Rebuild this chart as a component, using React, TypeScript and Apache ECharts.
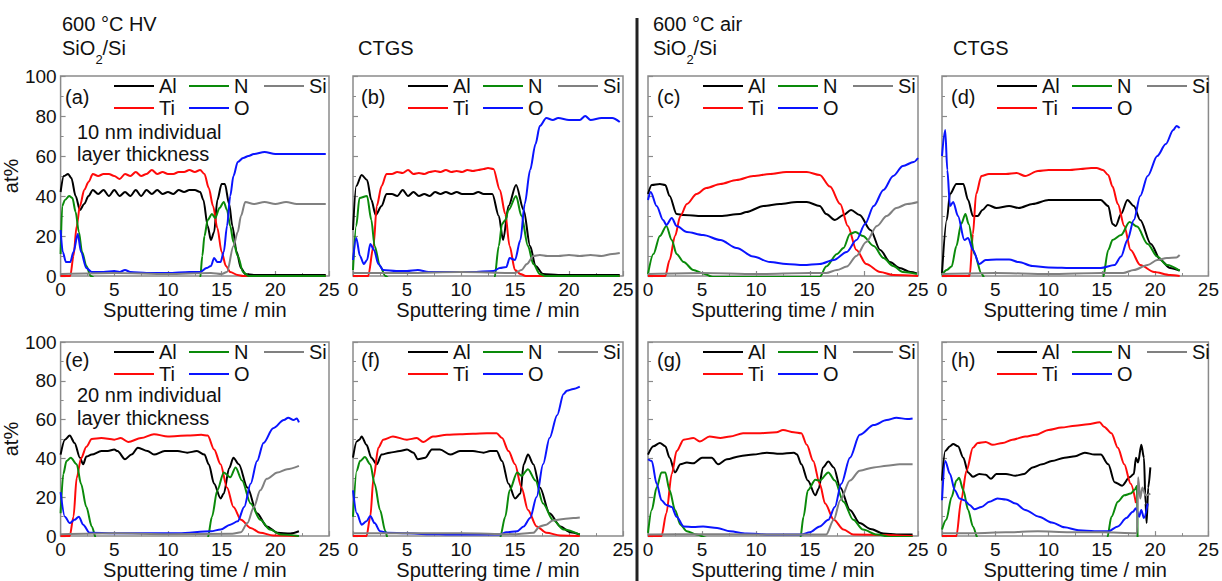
import React, { useEffect, useRef } from 'react';
import * as echarts from 'echarts';

// ---------- data: [sputtering time (min), at%] ----------
// (a) 600 °C HV, SiO2/Si, 10 nm
const aAl = [[0,42],[0.3,50],[0.7,51],[1.0,49],[1.4,40],[1.8,33],[2.2,36],[2.6,40],[3.0,43],[3.5,41],[4,43],[4.5,40],[5,43],[5.5,40],[6,42],[6.5,40],[7,43],[7.5,40],[8,43],[8.5,41],[9,43],[9.5,41],[10,42],[10.5,41],[11,43],[11.5,42],[12,43],[12.5,43],[13,42],[13.3,38],[13.7,25],[14,18],[14.3,22],[14.6,38],[15,46],[15.3,46],[15.7,36],[16,25],[16.4,12],[16.8,4],[17.2,1],[18,0.5],[20,0.5],[22,0.5],[24.7,0.5]];
const aTi = [[0,0],[0.9,0],[1.2,10],[1.5,25],[1.8,35],[2.2,43],[2.6,47],[3,51],[3.5,50],[4,51],[4.5,51],[5,50],[5.5,48.5],[6,51],[6.5,50],[7,52],[7.5,50],[8,51],[8.5,53],[9,51],[9.5,52],[10,51],[10.5,51],[11,52],[11.5,52],[12,53],[12.5,52],[13,53],[13.4,51],[13.8,44],[14.2,35],[14.6,24],[15,12],[15.4,5],[15.8,2],[16.5,0.5],[17,0],[24.7,0]];
const aN = [[0,11],[0.15,35],[0.4,38],[0.8,40],[1.1,39],[1.4,32],[1.7,22],[2.0,12],[2.4,5],[2.8,0],[3.2,-1],[13,-1],[13.2,10],[13.4,20],[13.7,28],[14.1,31],[14.4,29],[14.8,34],[15.2,37],[15.5,33],[15.8,25],[16.1,17],[16.5,10],[17,2],[17.5,0],[24.7,0]];
const aO = [[0,23],[0.2,12],[0.5,7],[0.9,7],[1.2,12],[1.6,21],[1.9,12],[2.4,4],[2.9,2],[4,2],[5,2.5],[5.5,2],[6,3],[6.5,2],[8,1.5],[10,1.5],[12,2],[13,2],[13.6,4],[14,5],[14.3,9],[14.6,7],[14.9,7],[15.2,12],[15.5,25],[15.8,40],[16.1,50],[16.5,57],[17,59],[17.5,60],[18,61],[19,62],[20,61],[21,61],[22,61],[23,61],[24,61],[24.7,61]];
const aSi = [[0,1],[5,1.5],[10,1],[14,1.5],[15,1],[15.5,2],[16.1,15],[16.5,22],[16.8,30],[17.2,37],[18,36],[19,37],[20,36],[21,37],[22,36],[23,36],[24,36],[24.7,36]];

// (b) 600 °C HV, CTGS, 10 nm
const bAl = [[0,23],[0.3,45],[0.8,50.5],[1.3,48],[1.7,38],[2.1,30.5],[2.65,35],[3.1,41],[3.6,41],[4.1,40],[4.6,43],[5.1,40],[5.6,42],[6.1,40],[6.6,41],[7.1,40],[7.6,42],[8.1,41],[8.6,42],[9.1,41],[9.6,42],[10.1,41],[10.6,41],[11.1,41],[11.6,42],[12.1,41],[12.9,41],[13.5,30],[13.9,18],[14.4,35],[15.1,45.5],[15.8,33],[16.4,15],[16.9,5],[17.6,1],[19,0.5],[24.7,0.5]];
const bTi = [[0,0],[1.4,0],[1.9,15],[2.2,35],[2.65,45],[3.1,51],[3.6,51],[4.1,52],[4.6,51.5],[5.1,53],[5.6,51],[6.1,51.5],[6.6,51],[7.1,52],[7.6,52.5],[8.1,52],[8.6,53],[9.1,52],[9.6,52.5],[10.1,52],[10.6,53],[11.1,52.5],[11.6,53],[12.1,53.5],[12.5,54],[13,53.5],[13.6,43],[14.1,31],[14.5,15],[15,3],[15.5,1],[16,0],[24.7,0]];
const bN = [[0,3],[0.3,25],[0.6,39],[1.3,40],[1.7,28],[2.0,15],[2.5,5],[3,0],[3.3,-1],[13.1,-1],[13.5,15],[13.8,26],[14.1,28],[14.4,33],[15.1,40],[15.6,30],[16.2,15],[16.7,6],[17.3,1],[17.8,0],[24.7,0]];
const bO = [[0,8],[0.3,19],[0.65,10],[1,6],[1.3,8],[1.6,16],[1.95,13],[2.35,6],[2.8,3],[4,2.5],[5,2.5],[6,3],[7,2],[9,2],[11,2],[13,2.5],[13.6,4],[14.2,4.5],[14.5,9],[15,8],[15.5,18],[15.9,36],[16.4,53],[16.9,66],[17.3,75],[17.9,79],[18.5,78],[19,79],[20,78],[21,78],[21.5,80],[22,78],[23,79],[24,79],[24.7,77]];
const bSi = [[0,1.5],[5,1.5],[10,2],[15,1.5],[15.6,3],[16.1,6],[16.7,10],[17.3,10.5],[18,10],[19,10],[20,10.5],[21,10],[22,10.5],[23,10],[24,11],[24.7,11.5]];

// (c) 600 °C air, SiO2/Si, 10 nm
const cAl = [[0,41],[0.35,45.5],[1.1,46],[1.6,45.5],[2.0,40],[2.65,31],[3.3,30.5],[5,30],[6.7,30],[8.5,31],[9.1,32],[10.7,35],[12.2,36],[13.8,37],[14.7,37],[15.9,35],[16.5,31],[17.3,28],[18.1,30.5],[18.8,33],[19.6,30.5],[20.6,23],[21.5,13],[22.4,7],[23.3,4],[24.3,2],[24.9,1.3]];
const cTi = [[0,0],[1.6,0],[2.0,8],[2.5,20],[3,30],[3.6,36],[4.5,41],[5.4,44],[6.7,46],[8.2,48],[9.75,50],[11.3,51],[12.8,52],[14.7,52],[15.9,50.5],[16.85,44.7],[17.8,36],[18.5,25],[19.3,13],[20.2,6],[21.5,2],[22.7,0.5],[25,0]];
const cN = [[0,1],[0.5,11],[1.1,20],[1.7,25],[2.2,18],[2.65,11],[3.3,7],[4.2,3],[5.1,1.3],[6,-0.5],[15.9,-0.5],[16.5,4.7],[17.5,11],[18.1,14],[18.7,21],[19.2,22],[19.9,20],[20.9,15],[21.8,9],[22.7,5],[23.6,2],[24.9,1]];
const cO = [[0,38],[0.25,42],[0.8,35],[1.4,28],[1.7,25.5],[2.2,29],[2.65,25],[3.6,22],[5.1,20.5],[6.7,18],[8.2,14],[9.75,9.7],[11.3,7],[12.8,6],[14.4,5.5],[15.9,6],[17.2,8],[18.4,12],[19.3,18],[20.1,26],[20.9,35],[21.8,43],[22.7,50],[23.6,55],[24.6,57],[25,59]];
const cSi = [[0,1],[5,1.5],[10,1],[15,1.5],[16.5,1.5],[17.5,3],[18.4,4.7],[19.3,10],[20.2,17],[21.2,25],[22.1,30],[23,34],[24,36],[25,37]];

// (d) 600 °C air, CTGS, 10 nm
const dAl = [[0,1.3],[0.45,28],[0.75,41],[1.35,46],[2,46],[2.45,38],[2.9,30],[3.35,30],[3.8,33],[4.3,35.5],[5.1,34],[6.3,35],[7.2,34],[8.5,36],[10,38],[12.5,38],[14.9,38],[15.6,35],[16,26],[16.3,25],[16.8,31],[17.4,38],[18,35],[18.6,28],[19.6,16],[20.5,8],[21.4,4],[22.3,2.7]];
const dTi = [[0,0],[2.6,0],[2.9,21],[3.2,41],[3.7,50],[4.4,51],[5,51],[6,51],[7,51.5],[7.8,50],[9,52.5],[10,53],[11,53],[12,53],[13,53.5],[14,54],[14.5,54],[15.1,53],[15.6,50.5],[16,44.7],[16.5,36],[17.1,25],[17.7,13],[18.6,5.5],[19.9,2],[21.4,0.5],[22.3,0]];
const dN = [[0,0.5],[0.45,3],[0.9,4.7],[1.35,15],[1.8,26],[2.2,31],[2.5,26],[3.05,11],[3.7,1.3],[4,-1],[15.1,-1],[15.6,13],[16,18],[16.8,20.5],[17.6,27],[18.3,24.7],[19.3,16],[20.2,9.7],[21.1,5.5],[22.3,2.7]];
const dO = [[0,60],[0.3,73],[0.5,53],[0.75,35],[1.05,37],[1.5,30],[2.1,18],[2.45,19],[2.9,13],[3.5,6],[4.1,8],[5.1,8.3],[6.3,8.3],[7.2,7],[8.5,5],[10,4.3],[12.5,4],[14.9,4],[16.2,5.5],[16.8,9.7],[17.4,18],[18,28],[18.6,40],[19.3,50],[20.2,60],[21,66],[21.7,73],[22,75],[22.3,74]];
const dSi = [[0,1],[5,1.5],[10,1],[15,1.5],[17,1.5],[18,3],[19.3,5.5],[20.2,8],[21.1,9],[22,9.3],[22.3,10.5]];

// (e) 600 °C HV, SiO2/Si, 20 nm
const eAl = [[0,42],[0.4,49.7],[0.85,51.8],[1.3,48],[1.8,40.4],[2.1,37],[2.4,41],[2.9,42],[3.8,43.8],[4.4,43.8],[5,44.6],[5.3,43.8],[6,39.6],[6.6,42],[7.2,45.5],[8.1,43.8],[8.7,42],[9.7,43.8],[10.9,43.8],[11.8,43],[12.7,43.8],[13.4,42],[13.8,37],[14.3,27],[14.9,19.4],[15.2,21.9],[15.7,35],[16.1,40.4],[16.6,37],[17.4,25],[18.3,11.8],[19.2,5],[20.2,1.7],[21.4,1.3],[22.2,2.5]];
const eTi = [[0,0],[0.85,0],[1.2,10],[1.5,30],[1.9,40],[2.4,46],[2.9,50],[3.8,50.5],[5,49.7],[5.6,50.5],[6.3,48.5],[7.5,50.5],[8.7,52.5],[10,51.3],[11.8,51.8],[13.1,52.2],[13.7,51.8],[14.3,44.6],[14.9,37],[15.5,25],[16.1,15],[16.8,8.4],[17.7,4.2],[18.6,1.7],[19.8,0.3],[22.2,0]];
const eN = [[0,11.8],[0.25,32],[0.55,38.7],[0.95,40.4],[1.5,37],[1.9,27],[2.4,15],[2.9,5],[3.3,-1],[13.7,-1],[14.1,10],[14.6,23.6],[15.2,32.8],[15.8,30.3],[16.3,35.4],[16.9,28.6],[17.7,16.8],[18.6,8.4],[19.5,3.4],[20.5,0.8],[22.2,0]];
const eO = [[0,22.7],[0.4,10],[0.85,6.7],[1.3,8.4],[1.7,10],[2.1,5.9],[2.7,1.7],[5,1.5],[8,1.5],[11,1.5],[14,2.5],[14.9,3.4],[15.8,5.9],[16.5,7.6],[17.1,15],[17.7,27],[18.3,38.7],[18.9,48],[19.8,55.6],[20.8,59.8],[21.2,61],[21.7,59.8],[22,60.6],[22.2,58.6]];
const eSi = [[0,1],[5,1.5],[10,1],[16,1.2],[16.8,2],[17.4,6.7],[18,15],[18.6,23.6],[19.2,29.5],[20.2,32.8],[21.1,34.5],[22.2,36.2]];

// (f) 600 °C HV, CTGS, 20 nm
const fAl = [[0,40.4],[0.35,48.8],[0.6,49.7],[0.8,51.3],[1.25,47],[1.7,40.4],[2.2,37],[2.65,42],[3.4,43],[4.35,43.8],[5,44.6],[5.6,43],[6,39.6],[6.7,40.4],[7.3,44.6],[8.05,44.6],[9,42],[9.9,43.8],[11.1,43.8],[12.1,43],[12.7,43.8],[13.3,43.8],[13.8,38.7],[14.4,27],[15,19.4],[15.5,21.9],[15.8,37],[16.2,42],[16.7,37],[17.3,25],[18.2,11.8],[19.2,5],[20.1,2],[21,0.8]];
const fTi = [[0,0],[1.25,0],[1.6,10],[1.9,30],[2.35,45.5],[2.8,49.7],[3.7,51.3],[5,49.7],[5.9,50.5],[6.5,48.5],[7.4,51.3],[8.7,52.2],[9.9,52.5],[11.1,52.7],[12.4,53],[13.3,53],[13.8,50.5],[14.4,43.8],[15,37],[15.6,25],[16.2,13.5],[17,5],[17.9,1.7],[19.2,0.3],[21,0]];
const fN = [[0,10],[0.35,33.7],[0.65,38.7],[1.1,40.7],[1.6,37],[2,27],[2.5,13.5],[3,2.5],[3.2,-1],[13.6,-1],[14.1,10],[14.5,23.6],[15.2,32.8],[15.6,31],[16.2,34.5],[16.9,28.6],[17.6,16.8],[18.5,8.4],[19.5,3.4],[21,0.8]];
const fO = [[0,23.6],[0.35,11.8],[0.8,5.9],[1.25,7.6],[1.6,10.4],[2,6.7],[2.5,2.5],[3.1,1.7],[5,1.5],[7,1],[9,0.8],[11,0.8],[13.6,0.8],[14.2,2],[15.2,2.5],[15.8,5],[16.4,9.3],[17,20.2],[17.6,37],[18.2,50.5],[18.9,62.3],[19.5,73.2],[19.8,74.9],[20.4,75.8],[21,77]];
const fSi = [[0,1.5],[5,1.5],[10,1.5],[15,1],[16.7,1.7],[17.3,5],[17.9,5.9],[18.5,8],[19.5,8.8],[20.4,9.3],[21,9.6]];

// (g) 600 °C air, SiO2/Si, 20 nm
const gAl = [[0,42],[0.5,46.3],[1.1,48],[1.6,46.3],[2,40.4],[2.5,32.8],[3,37],[3.6,37.9],[4.2,37.5],[5,40.4],[5.9,40.4],[6.5,37],[7.3,39.6],[8.5,41.2],[9.75,42],[11,43],[12.2,42.4],[13.5,43],[13.8,42],[14.2,37],[14.8,28.6],[15.5,21],[15.8,24.4],[16.2,35.4],[16.7,38.4],[17.2,35.4],[17.8,25],[18.7,13.5],[19.6,6.7],[20.6,3.7],[21.8,1.3],[23,0.8],[24.5,0.8]];
const gTi = [[0,0],[1.25,0],[1.7,11.8],[2.2,32],[2.65,43.8],[3.3,49.7],[4.2,50.5],[4.8,48.8],[5.7,51.3],[6.7,50.5],[7.6,51.3],[8.8,53],[10.4,53],[11.9,53.5],[12.5,54.7],[13.5,53.5],[14.2,53],[14.7,47],[15.3,38.7],[15.9,27],[16.4,16.8],[17.2,8.4],[18.1,3.4],[19,0.8],[24.5,0]];
const gN = [[0,1.7],[0.35,13.5],[0.8,25],[1.25,32.8],[1.6,32.8],[2,23.6],[2.5,13.5],[3,5.9],[3.6,2.5],[4.5,0.8],[5.5,-1],[14.1,-1],[14.4,10],[14.8,23.6],[15.5,29],[15.9,28.6],[16.7,32.8],[17.3,28.6],[18.1,17.7],[19,8.4],[19.9,3.4],[21.2,0.8],[22.5,-0.5],[24.5,-0.5]];
const gO = [[0,39.6],[0.35,38.7],[0.8,27],[1.25,18.5],[1.7,16],[2.2,15],[2.65,10],[3.3,5],[4.2,4.7],[5.1,5],[6.4,4.2],[7.6,2.5],[9.1,1.3],[11.3,0.8],[13.5,0.8],[14.2,0.8],[15,2],[15.9,5],[16.7,8.4],[17.3,15],[17.9,27],[18.7,40.4],[19.6,52.2],[20.9,57.2],[22.1,59.8],[23,61],[24,60.3],[24.5,60.6]];
const gSi = [[0,0.8],[5,1],[10,0.8],[16.5,0.8],[17.2,8.4],[17.8,18.5],[18.7,28.6],[19.6,33.7],[20.9,35.4],[22.1,36.2],[23.3,37],[24.5,37]];

// (h) 600 °C air, CTGS, 20 nm
const hAl = [[0,28.6],[0.3,43.8],[0.75,46.3],[1.05,47.5],[1.5,46.3],[2,40.4],[2.45,32.8],[2.9,30.6],[3.5,32],[4.1,31.6],[4.6,29.5],[5.1,32],[6,32],[6.9,31.1],[7.7,32],[8.5,35.4],[9.4,37],[10.3,38.7],[11.5,40.4],[12.5,41.2],[13.4,43],[14.3,42],[14.9,42],[15.6,37],[16.2,27.8],[16.9,26],[17.6,30.3],[18,32],[18.2,40.4],[18.4,37.9],[18.7,47],[18.95,40.4],[19.1,16.8],[19.2,6.7],[19.35,25],[19.55,35.4]];
const hTi = [[0,0],[1.35,0],[1.8,18.5],[2.3,33.7],[2.9,45.5],[3.35,48],[4.1,48.5],[4.75,47],[5.7,48],[6.6,49.7],[7.8,51.3],[8.8,52.2],[10,54.7],[11.2,55.9],[12.5,56.9],[13.7,57.6],[14.8,58.6],[15.2,56.4],[15.9,53],[16.5,45.5],[17.1,37],[17.7,27],[18.2,17]];
const hN = [[0,3.4],[0.4,8.4],[0.9,20.2],[1.35,28.6],[1.6,30],[2,23.6],[2.45,13.5],[2.9,5],[3.35,-1],[15.5,-1],[15.9,10],[16.5,17.7],[17.1,21],[17.7,21.9],[18.1,24],[18.3,26],[18.35,-1]];
const hO = [[0,18.5],[0.3,38.7],[0.75,32],[1.2,23.6],[1.65,19.4],[2.1,18.5],[2.6,16],[3.05,13.8],[3.7,15],[4.45,17.7],[5.2,19.4],[6,18.9],[6.9,16.8],[7.8,13.5],[9.1,10],[10.3,7],[11.5,4.5],[12.8,3],[14.3,2.5],[15.6,2.5],[16.5,5],[17.3,9.3],[17.9,12.5],[18.2,14.3],[18.5,10],[18.7,13.5],[18.95,9.3],[19.3,16.8]];
const hSi = [[0,1.5],[3,1.5],[6,2],[9,2.5],[12,2],[15,2],[18.2,1.5],[18.3,1.7],[18.4,30.3],[18.6,19.4],[18.8,25],[19.1,21],[19.55,21.9]];

// ---------- labels ----------
const elementNames = ['Al', 'Ti', 'N', 'O', 'Si'];
const legendOrder = ['Al', 'N', 'Si', 'Ti', 'O'];
const panelLetters = ['(a)', '(b)', '(c)', '(d)', '(e)', '(f)', '(g)', '(h)'];
const panelSeries = [
  [aAl, aTi, aN, aO, aSi],
  [bAl, bTi, bN, bO, bSi],
  [cAl, cTi, cN, cO, cSi],
  [dAl, dTi, dN, dO, dSi],
  [eAl, eTi, eN, eO, eSi],
  [fAl, fTi, fN, fO, fSi],
  [gAl, gTi, gN, gO, gSi],
  [hAl, hTi, hN, hO, hSi],
];
const xAxisTitle = 'Sputtering time / min';
const yAxisTitle = 'at%';
const thicknessLabels = [['10 nm individual', 'layer thickness'], ['20 nm individual', 'layer thickness']];

// ---------- layout & style ----------
const FONT = 'Liberation Sans, Arial, Helvetica, sans-serif';
const COLORS: Record<string, string> = { Al: '#000000', Ti: '#ff0a0a', N: '#0a8a0a', O: '#0a14ff', Si: '#808080' };
const GRID_LEFTS = [59, 353, 648, 942];
const GRID_TOPS = [76, 342];
const GRID_HEIGHTS = [200, 198];
const GRID_WIDTH = 270;
const LETTER_X = [65, 361, 657, 951];
const FRAME = '#8a8a8a';
const LINE_ICON = 'path://M0,0L40,0L40,2.2L0,2.2Z';

export default function App() {
  const ref = useRef<HTMLDivElement>(null);

  useEffect(() => {
    document.body.style.margin = '0';
    if (!ref.current) return;
    const chart = echarts.init(ref.current, null, { renderer: 'svg' });

    const grids: any[] = [];
    const xAxes: any[] = [];
    const yAxes: any[] = [];
    const series: any[] = [];
    const legends: any[] = [];
    const graphics: any[] = [];

    for (let p = 0; p < 8; p++) {
      const row = Math.floor(p / 4);
      const col = p % 4;
      const left = GRID_LEFTS[col];
      const top = GRID_TOPS[row];
      const height = GRID_HEIGHTS[row];
      grids.push({ left, top, width: GRID_WIDTH, height, show: true, borderColor: FRAME, borderWidth: 1.5, backgroundColor: 'transparent' });
      xAxes.push({
        type: 'value', gridIndex: p, min: 0, max: 25, interval: 5,
        name: xAxisTitle, nameLocation: 'middle', nameGap: 18,
        nameTextStyle: { fontSize: 20, color: '#111', fontFamily: FONT, verticalAlign: 'top' },
        axisLine: { show: false },
        axisTick: { show: true, inside: true, length: 5, lineStyle: { color: FRAME, width: 1.2 } },
        minorTick: { show: true, splitNumber: 2, length: 3, lineStyle: { color: FRAME, width: 1 } },
        splitLine: { show: false },
        axisLabel: { fontSize: 19, color: '#111', fontFamily: FONT, margin: 4 },
      });
      yAxes.push({
        type: 'value', gridIndex: p, min: 0, max: 100, interval: 20,
        name: col === 0 ? yAxisTitle : '', nameLocation: 'middle', nameGap: 28,
        nameTextStyle: { fontSize: 20, color: '#111', fontFamily: FONT },
        axisLine: { show: false },
        axisTick: { show: true, inside: true, length: 5, lineStyle: { color: FRAME, width: 1.2 } },
        minorTick: { show: true, splitNumber: 2, length: 3, lineStyle: { color: FRAME, width: 1 } },
        splitLine: { show: false },
        axisLabel: { show: col === 0, fontSize: 19, color: '#111', fontFamily: FONT, margin: 4 },
      });
      elementNames.forEach((name, i) => {
        series.push({
          type: 'line', name, xAxisIndex: p, yAxisIndex: p,
          data: panelSeries[p][i],
          showSymbol: false, symbol: 'none', smooth: 0.3, smoothMonotone: 'x',
          lineStyle: { color: COLORS[name], width: 2 },
          itemStyle: { color: COLORS[name] },
          clip: true, z: 2 + i,
        });
      });
      legends.push({
        data: legendOrder, left: left + 55, top: top - 1, width: 250,
        orient: 'horizontal', icon: LINE_ICON, itemWidth: 40, itemHeight: 22, itemGap: 0, padding: 0,
        selectedMode: false,
        textStyle: { fontSize: 20, color: '#111', fontFamily: FONT, width: 30, lineHeight: 22 },
      });
      graphics.push({
        type: 'text', x: LETTER_X[col], y: row === 0 ? 97 : 360, z: 10,
        style: { text: panelLetters[p], fontSize: 20, fill: '#111', fontFamily: FONT, textVerticalAlign: 'middle' },
      });
    }

    // thickness annotations in (a) and (e)
    thicknessLabels.forEach((lines, r) => {
      const base = r === 0 ? 131.7 : 395;
      lines.forEach((t, k) => {
        graphics.push({
          type: 'text', x: 77, y: base + k * 22.5, z: 10,
          style: { text: t, fontSize: 20, fill: '#111', fontFamily: FONT, textVerticalAlign: 'middle' },
        });
      });
    });

    // headers
    const header = (text: string, x: number, y: number, size = 20) => ({
      type: 'text', x, y, z: 10,
      style: { text, fontSize: size, fill: '#111', fontFamily: FONT, textVerticalAlign: 'middle' },
    });
    graphics.push(header('600 °C HV', 62, 24));
    graphics.push(header('600 °C air', 653, 24));
    [62, 653].forEach((x) => {
      graphics.push(header('SiO', x, 48));
      graphics.push(header('2', x + 33.5, 59, 13));
      graphics.push(header('/Si', x + 40.5, 48));
    });
    graphics.push(header('CTGS', 358, 48));
    graphics.push(header('CTGS', 953, 48));
    graphics.push({
      type: 'line', z: 10,
      shape: { x1: 637, y1: 18, x2: 637, y2: 581 },
      style: { stroke: '#222', lineWidth: 3 },
    });

    chart.setOption({
      animation: false,
      backgroundColor: '#ffffff',
      textStyle: { fontFamily: FONT },
      grid: grids,
      xAxis: xAxes,
      yAxis: yAxes,
      series,
      legend: legends,
      graphic: graphics,
    });

    return () => chart.dispose();
  }, []);

  return <div ref={ref} style={{ width: 1222, height: 581, position: 'absolute', left: 0, top: 0 }} />;
}
